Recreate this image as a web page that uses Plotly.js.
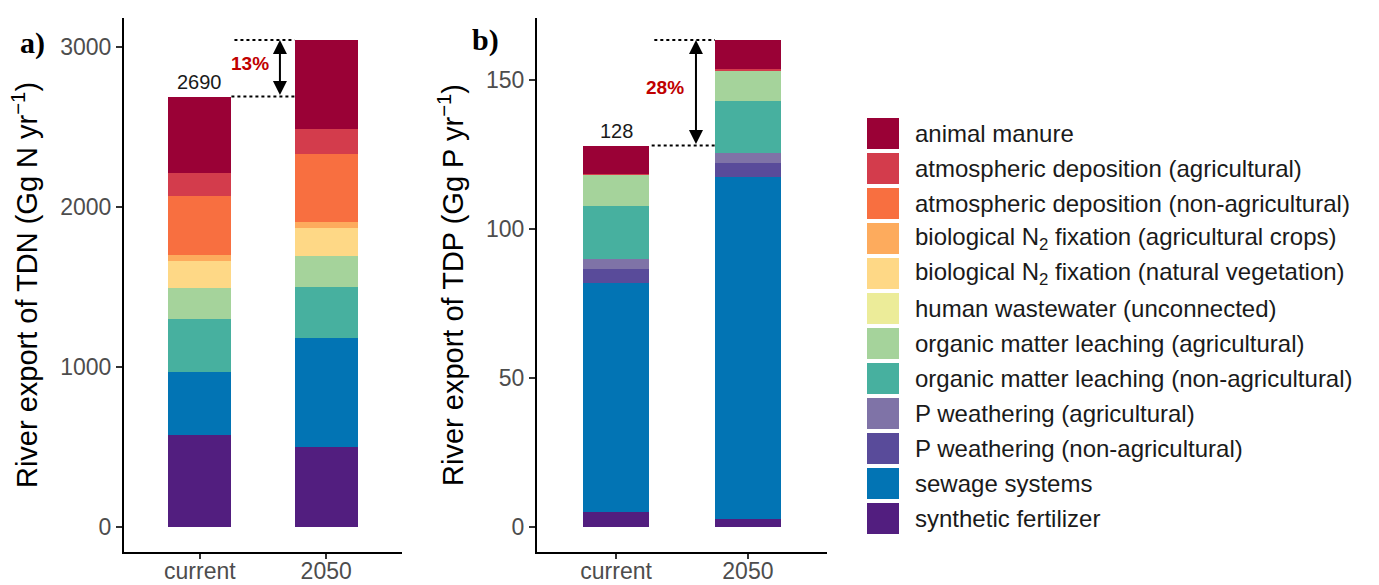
<!DOCTYPE html>
<html>
<head>
<meta charset="utf-8">
<script src="https://cdn.plot.ly/plotly-3.0.1.min.js"></script>
<style>html,body{margin:0;padding:0;background:#fff;}#chart{width:1379px;height:585px;}</style>
</head>
<body>
<div id="chart"></div>
<script>
// ---- data ----
var categories = ['current', '2050'];

var sourceNames = [
  'animal manure',
  'atmospheric deposition (agricultural)',
  'atmospheric deposition (non-agricultural)',
  'biological N<sub>2</sub> fixation (agricultural crops)',
  'biological N<sub>2</sub> fixation (natural vegetation)',
  'human wastewater (unconnected)',
  'organic matter leaching (agricultural)',
  'organic matter leaching (non-agricultural)',
  'P weathering (agricultural)',
  'P weathering (non-agricultural)',
  'sewage systems',
  'synthetic fertilizer'
];

var sourceColors = [
  '#9a0136', '#d33c4c', '#f86f40', '#fdab5d', '#fed886', '#ecec99',
  '#a5d39b', '#47b09f', '#7f73a7', '#594b9a', '#0274b4', '#521e7f'
];

// TDN (Gg N / yr), [current, 2050]
var nAnimalManure    = [480, 554];
var nAtmDepAg        = [141, 159];
var nAtmDepNonAg     = [367, 423];
var nBioFixCrops     = [38, 41];
var nBioFixNatural   = [168, 173];
var nHumanWastewater = [0, 0];
var nOmLeachAg       = [196, 192];
var nOmLeachNonAg    = [329, 321];
var nPWeathAg        = [0, 0];
var nPWeathNonAg     = [0, 0];
var nSewage          = [398, 679];
var nSynthFert       = [573, 502];

// TDP (Gg P / yr), [current, 2050]
var pAnimalManure    = [9.4, 9.8];
var pAtmDepAg        = [0.6, 0.6];
var pAtmDepNonAg     = [0, 0];
var pBioFixCrops     = [0, 0];
var pBioFixNatural   = [0, 0];
var pHumanWastewater = [0, 0];
var pOmLeachAg       = [10.3, 10.1];
var pOmLeachNonAg    = [17.9, 17.3];
var pPWeathAg        = [3.1, 3.3];
var pPWeathNonAg     = [4.9, 5.0];
var pSewage          = [76.9, 114.7];
var pSynthFert       = [4.9, 2.6];

var nSeries = [nAnimalManure, nAtmDepAg, nAtmDepNonAg, nBioFixCrops, nBioFixNatural, nHumanWastewater,
               nOmLeachAg, nOmLeachNonAg, nPWeathAg, nPWeathNonAg, nSewage, nSynthFert];
var pSeries = [pAnimalManure, pAtmDepAg, pAtmDepNonAg, pBioFixCrops, pBioFixNatural, pHumanWastewater,
               pOmLeachAg, pOmLeachNonAg, pPWeathAg, pPWeathNonAg, pSewage, pSynthFert];

var nTickVals = [0, 1000, 2000, 3000];
var pTickVals = [0, 50, 100, 150];

// ---- build ----
function totals(series) {
  return categories.map(function (c, j) {
    return series.reduce(function (s, arr) { return s + arr[j]; }, 0);
  });
}
var nTot = totals(nSeries);
var pTot = totals(pSeries);

var traces = [];
// stack from bottom (synthetic fertilizer) to top (animal manure)
for (var i = sourceNames.length - 1; i >= 0; i--) {
  traces.push({type: 'bar', x: categories, y: nSeries[i], name: sourceNames[i], xaxis: 'x', yaxis: 'y',
    width: 0.5, marker: {color: sourceColors[i], line: {width: 0}}, showlegend: false, hoverinfo: 'name+y'});
}
for (var i = sourceNames.length - 1; i >= 0; i--) {
  traces.push({type: 'bar', x: categories, y: pSeries[i], name: sourceNames[i], xaxis: 'x2', yaxis: 'y2',
    width: 0.5, marker: {color: sourceColors[i], line: {width: 0}}, showlegend: false, hoverinfo: 'name+y'});
}

var W = 1379, H = 585;
function px(x) { return x / W; }
function py(y) { return 1 - y / H; }

var tickFont = {family: 'Liberation Sans, Arial, sans-serif', size: 23, color: '#4d4d4d'};
var xTickFont = {family: 'Liberation Sans, Arial, sans-serif', size: 23, color: '#4d4d4d'};
var titleFont = {family: 'Liberation Sans, Arial, sans-serif', size: 29, color: '#000'};

function yAx(range, tv, title, anchor) {
  return {
    range: range, tickvals: tv, ticktext: tv.map(String), showgrid: false, zeroline: false,
    showline: true, linecolor: '#000', linewidth: 2, ticks: 'outside', ticklen: 6, tickwidth: 1.5,
    tickcolor: '#333', tickfont: tickFont, anchor: anchor, domain: [py(552), py(18)],
    title: {text: title, font: titleFont, standoff: 14}
  };
}
function xAx(domain, anchor) {
  return {
    type: 'category', range: [-0.6, 1.6], domain: domain, anchor: anchor, showgrid: false, zeroline: false,
    showline: true, linecolor: '#000', linewidth: 2, ticks: 'outside', ticklen: 5, tickwidth: 1.5,
    tickcolor: '#333', tickfont: xTickFont, ticklabelstandoff: -8
  };
}

var annotations = [];
var shapes = [];

// totals on top of bars
categories.forEach(function (c, j) {
  annotations.push({x: c, y: nTot[j], xref: 'x', yref: 'y', text: String(Math.round(nTot[j])),
    showarrow: false, yanchor: 'bottom', yshift: 2,
    font: {family: 'Liberation Sans, Arial, sans-serif', size: 20, color: '#1a1a1a'}});
  annotations.push({x: c, y: pTot[j], xref: 'x2', yref: 'y2', text: String(Math.round(pTot[j])),
    showarrow: false, yanchor: 'bottom', yshift: 2,
    font: {family: 'Liberation Sans, Arial, sans-serif', size: 20, color: '#1a1a1a'}});
});

// change arrows
function changeMarks(tot, xr, yr, arrowX, lowStart, upStart, labelX) {
  var pct = Math.round((tot[1] - tot[0]) / tot[0] * 100) + '%';
  shapes.push({type: 'line', xref: xr, yref: yr, x0: lowStart, x1: 0.75, y0: tot[0], y1: tot[0],
    line: {color: '#000', width: 2, dash: 'dot'}});
  shapes.push({type: 'line', xref: xr, yref: yr, x0: upStart, x1: 0.75, y0: tot[1], y1: tot[1],
    line: {color: '#000', width: 2, dash: 'dot'}});
  annotations.push({x: arrowX, y: tot[1], ax: arrowX, ay: tot[0], xref: xr, yref: yr, axref: xr, ayref: yr,
    text: '', showarrow: true, arrowhead: 2, startarrowhead: 2, arrowside: 'end+start',
    arrowsize: 1.4, startarrowsize: 1.4, arrowwidth: 2, arrowcolor: '#000', standoff: 0, startstandoff: 0});
  annotations.push({x: labelX, y: (tot[0] + tot[1]) / 2, xref: xr, yref: yr, text: '<b>' + pct + '</b>',
    showarrow: false, yshift: 5, font: {family: 'Liberation Sans, Arial, sans-serif', size: 19, color: '#c00000'}});
}
changeMarks(nTot, 'x', 'y', 0.634, 0.25, 0.274, 0.397);
changeMarks(pTot, 'x2', 'y2', 0.606, 0.27, 0.29, 0.371);

// panel labels
annotations.push({x: px(32), y: py(43), xref: 'paper', yref: 'paper', xanchor: 'center', yanchor: 'middle',
  text: '<b>a)</b>', showarrow: false,
  font: {family: 'Liberation Serif, Times New Roman, serif', size: 30, color: '#000'}});
annotations.push({x: px(485), y: py(40), xref: 'paper', yref: 'paper', xanchor: 'center', yanchor: 'middle',
  text: '<b>b)</b>', showarrow: false,
  font: {family: 'Liberation Serif, Times New Roman, serif', size: 30, color: '#000'}});

// legend (custom, large keys)
sourceNames.forEach(function (name, i) {
  var top = 118 + 35 * i;
  shapes.push({type: 'rect', xref: 'paper', yref: 'paper', x0: px(867), x1: px(899), y0: py(top + 31), y1: py(top),
    fillcolor: sourceColors[i], line: {width: 0}});
  annotations.push({x: px(913), y: py(top + 15.5), xref: 'paper', yref: 'paper', text: name, showarrow: false,
    xanchor: 'left', yanchor: 'middle', font: {family: 'Liberation Sans, Arial, sans-serif', size: 24, color: '#1a1a1a'}});
});

var layout = {
  width: W, height: H, margin: {l: 0, r: 0, t: 0, b: 0}, paper_bgcolor: '#fff', plot_bgcolor: '#fff',
  barmode: 'stack', showlegend: false,
  xaxis: xAx([px(124), px(402)], 'y'),
  yaxis: yAx([-156, 3181], nTickVals, 'River export of TDN (Gg N yr<sup>\u22121</sup>)', 'x'),
  xaxis2: xAx([px(537), px(827)], 'y2'),
  yaxis2: yAx([-8.4, 170.8], pTickVals, 'River export of TDP (Gg P yr<sup>\u22121</sup>)', 'x2'),
  annotations: annotations, shapes: shapes
};

Plotly.newPlot('chart', traces, layout, {displayModeBar: false, staticPlot: true});
</script>
</body>
</html>
